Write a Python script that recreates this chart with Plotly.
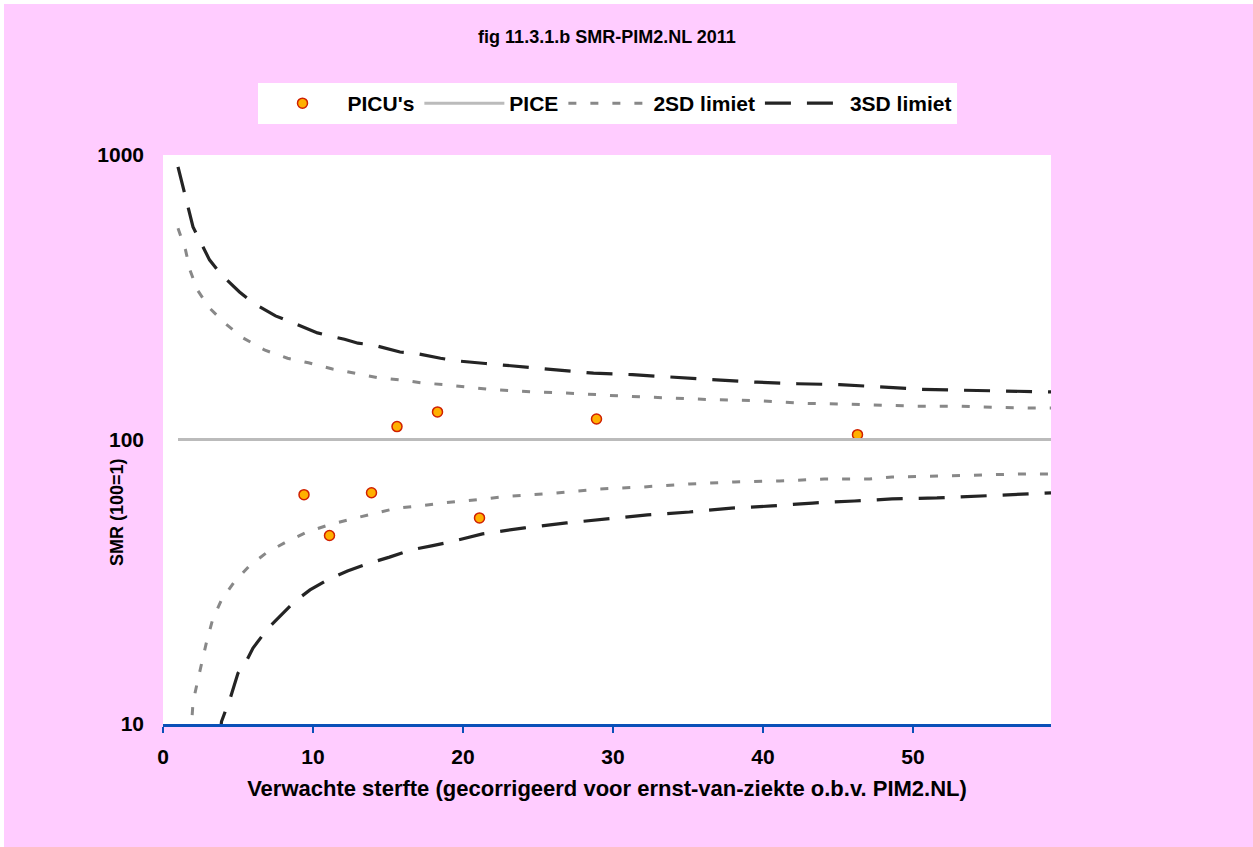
import plotly.graph_objects as go

# ---- data ----
picu_x = [9.4, 11.1, 13.9, 15.6, 18.3, 21.1, 28.9, 46.3]
picu_y = [64, 46, 65, 111, 125, 53, 118, 104]

pice_x = [1.0, 59.2]
pice_y = [100, 100]

up2_x = [1.0, 1.5, 1.8, 2.3, 3.1, 4.1, 5.3, 6.8, 8.3, 9.7, 11.3, 12.8, 14.3, 15.8, 17.3, 18.7,
         20.2, 21.8, 24.7, 27.7, 30.7, 33.7, 36.7, 39.7, 42.7, 45.8, 48.7, 50.3, 53.1, 54.7, 57.7, 59.2]
up2_y = [553, 464, 394, 335, 290, 257, 228, 206, 193, 186, 177, 171, 165, 162, 158, 156,
         153, 150, 147, 145, 142, 140, 138, 137, 134, 133, 132, 131, 131, 130, 129, 129]

lo2_x = [1.85, 2.0, 2.3, 2.6, 2.9, 3.3, 3.9, 4.7, 5.7, 6.9, 8.1, 9.6, 11.0, 12.6, 14.0, 15.6, 17.1,
         18.6, 20.1, 23.1, 26.1, 29.1, 32.0, 35.1, 38.1, 41.1, 44.1, 47.1, 48.6, 51.6, 53.1, 57.6, 59.2]
lo2_y = [9, 11.9, 14.1, 16.5, 19.4, 23.2, 27.3, 31.3, 35.7, 40.0, 43.3, 47.3, 50.0, 52.6, 54.7, 57.4, 58.4,
         59.8, 60.8, 63.2, 64.8, 67.0, 68.1, 69.8, 70.9, 71.5, 72.6, 72.6, 73.8, 74.4, 75.0, 75.7, 75.7]

up3_x = [1.0, 2.0, 3.1, 3.9, 5.1, 6.0, 7.5, 8.7, 10.3, 11.3, 12.1, 13.0, 14.0, 15.8, 16.8, 18.5,
         19.6, 21.5, 23.1, 25.8, 28.7, 31.3, 34.1, 36.9, 39.6, 42.3, 45.1, 47.9, 50.6, 53.3, 56.1, 59.2]
up3_y = [908, 559, 428, 379, 330, 302, 272, 257, 237, 230, 225, 218, 215, 203, 201, 193,
         189, 185, 182, 177, 171, 169, 166, 162, 159, 157, 156, 153, 150, 149, 148, 147]

lo3_x = [3.8, 3.9, 4.5, 5.0, 5.6, 6.0, 7.0, 8.8, 9.8, 11.1, 12.3, 13.8, 15.1, 16.5, 17.9, 19.1,
         21.3, 24.1, 26.9, 29.6, 32.3, 35.1, 37.9, 40.6, 43.3, 46.1, 48.6, 51.6, 54.3, 57.1, 59.2]
lo3_y = [9, 10.2, 12.4, 15.1, 16.8, 18.5, 21.7, 27.0, 29.6, 32.4, 34.5, 36.8, 38.6, 40.9, 42.3, 43.6,
         46.6, 48.9, 50.9, 52.6, 54.3, 55.6, 57.4, 58.4, 59.8, 60.8, 61.8, 62.3, 63.2, 64.3, 64.9]

x_range = [0, 59.2]
y_tickvals = [10, 100, 1000]
y_ticktext = ["10", "100", "1000"]

title_text = "fig 11.3.1.b SMR-PIM2.NL 2011"
x_title = "Verwachte sterfte (gecorrigeerd voor ernst-van-ziekte o.b.v. PIM2.NL)"
y_title = "SMR (100=1)"

# ---- styles ----
FONT = "Liberation Sans, Arial, sans-serif"
PINK = "#FFCCFF"
BLUE = "#0A50B8"

fig = go.Figure()

fig.add_trace(go.Scatter(
    x=picu_x, y=picu_y, mode="markers", name="PICU's",
    marker=dict(size=10, color="#FFB000", line=dict(color="#D02000", width=1.5)),
))
fig.add_trace(go.Scatter(
    x=pice_x, y=pice_y, mode="lines", name="PICE",
    line=dict(color="#BBBBBB", width=3),
))
fig.add_trace(go.Scatter(
    x=up2_x, y=up2_y, mode="lines", name="2SD limiet", legendgroup="2sd",
    line=dict(color="#888888", width=3, dash="8px,14px"),
))
fig.add_trace(go.Scatter(
    x=lo2_x, y=lo2_y, mode="lines", name="2SD limiet", legendgroup="2sd", showlegend=False,
    line=dict(color="#888888", width=3, dash="8px,14px"),
))
fig.add_trace(go.Scatter(
    x=up3_x, y=up3_y, mode="lines", name="3SD limiet", legendgroup="3sd",
    line=dict(color="#242424", width=3.2, dash="26px,16px"),
))
fig.add_trace(go.Scatter(
    x=lo3_x, y=lo3_y, mode="lines", name="3SD limiet", legendgroup="3sd", showlegend=False,
    line=dict(color="#242424", width=3.2, dash="26px,16px"),
))

W, H = 1253, 847
L, R, T, B = 163, 202, 155, 123
pw, ph = W - L - R, H - T - B

def px_x(px):
    return (px - L) / pw

def px_y(py):
    return 1 - (py - T) / ph

fig.update_layout(
    width=W, height=H,
    margin=dict(l=L, r=R, t=T, b=B, pad=0),
    paper_bgcolor=PINK, plot_bgcolor="white",
    font=dict(family=FONT, size=20, color="black"),
    title=dict(text=title_text, x=607 / W, xanchor="center",
               y=1 - 37 / H, yanchor="middle",
               font=dict(size=18, family=FONT, weight="bold")),
    showlegend=True,
    legend=dict(orientation="h", x=0.5, xanchor="center", y=px_y(83), yanchor="top",
                bgcolor="white", font=dict(size=21, family=FONT, color="black", weight="bold"),
                itemwidth=80, tracegroupgap=0),
    xaxis=dict(range=x_range, dtick=10, tick0=0, showgrid=False, zeroline=False,
               showline=True, linecolor=BLUE, linewidth=3,
               ticks="outside", tickcolor=BLUE, ticklen=6, tickwidth=2,
               tickfont=dict(size=21, family=FONT, weight="bold"), ticklabelstandoff=6,
               title=dict(text=x_title, standoff=14,
                          font=dict(size=22, family=FONT, weight="bold"))),
    yaxis=dict(type="log", range=[1, 3], tickvals=y_tickvals, ticktext=y_ticktext,
               showgrid=False, zeroline=False, showline=False, ticks="",
               tickfont=dict(size=21, family=FONT, weight="bold"), ticklabelstandoff=18),
    annotations=[dict(text=y_title, xref="paper", yref="paper",
                      x=px_x(117), y=px_y(512), textangle=-90, showarrow=False,
                      xanchor="center", yanchor="middle",
                      font=dict(size=18, family=FONT, weight="bold"))],
    shapes=[
        dict(type="rect", xref="paper", yref="paper", x0=px_x(0), x1=px_x(W), y0=px_y(4), y1=px_y(0),
             fillcolor="white", line=dict(width=0), layer="above"),
        dict(type="rect", xref="paper", yref="paper", x0=px_x(0), x1=px_x(4), y0=px_y(H), y1=px_y(0),
             fillcolor="white", line=dict(width=0), layer="above"),
    ],
)

fig.write_html("out.html", config={"displayModeBar": False},
               post_script="document.body.style.margin='0';")
